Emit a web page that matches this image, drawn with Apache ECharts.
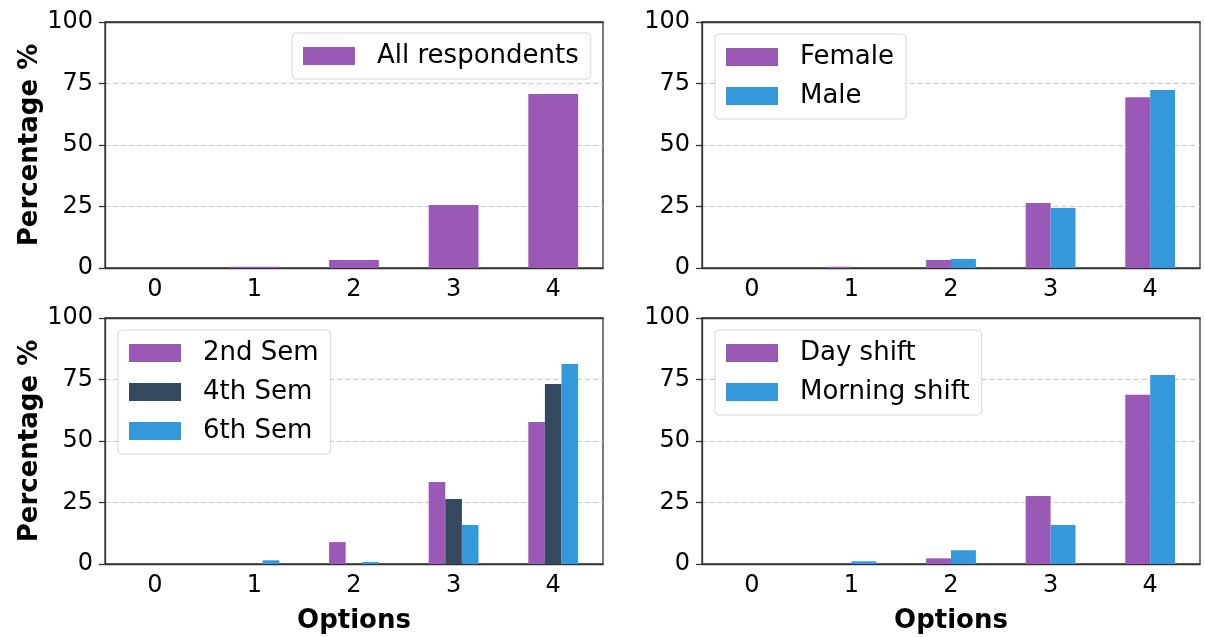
<!DOCTYPE html>
<html>
<head>
<meta charset="utf-8">
<script src="https://cdn.jsdelivr.net/npm/echarts@6/dist/echarts.min.js"></script>
<style>
  html, body { margin: 0; padding: 0; background: #fff; }
  #chart { width: 1205px; height: 637px; }
</style>
</head>
<body>
<div id="chart"></div>
<script>
  // data
  const options = ["0", "1", "2", "3", "4"];
  const allResp = [0, 0.5, 3.3, 25.6, 70.7];
  const female = [0, 0.5, 3.3, 26.4, 69.4];
  const male = [0, 0, 3.7, 24.4, 72.4];
  const sem2 = [0, 0, 8.9, 33.3, 57.7];
  const sem4 = [0, 0, 0, 26.4, 73.2];
  const sem6 = [0, 1.5, 0.8, 15.9, 81.3];
  const dayShift = [0, 0, 2.3, 27.6, 68.8];
  const morningShift = [0, 1.1, 5.6, 15.9, 76.8];
  const yTicks = [0, 25, 50, 75, 100];

  const C = { purple: "#9b59b6", dark: "#34495e", blue: "#3498db", frame: "#333", grid: "#c8c8c8" };
  const FONT = "DejaVu Sans";

  const grids = [
    { left: 105, top: 22, width: 498, height: 246 },
    { left: 702, top: 22, width: 498, height: 246 },
    { left: 105, top: 318, width: 498, height: 246 },
    { left: 702, top: 318, width: 498, height: 246 }
  ].map(g => ({ ...g, show: true, borderColor: C.frame, borderWidth: 1.3, backgroundColor: "transparent" }));

  const frameLine = { lineStyle: { color: C.frame, width: 1.3 } };

  const xAxes = [];
  grids.forEach((g, i) => {
    xAxes.push({
      type: "category", gridIndex: i, data: options,
      axisLine: frameLine,
      axisTick: { alignWithLabel: true, length: 6, ...frameLine },
      axisLabel: { color: "#000", fontFamily: FONT, fontSize: 24, margin: 10 },
      name: i >= 2 ? "Options" : "", nameLocation: "middle", nameGap: 44,
      nameTextStyle: { color: "#000", fontFamily: FONT, fontSize: 26, fontWeight: "bold" }
    });
  });
  // top frame edge, drawn over the dashed line at 100
  grids.forEach((g, i) => {
    xAxes.push({
      type: "category", gridIndex: i, position: "top", data: options, z: 10,
      axisLine: frameLine, axisTick: { show: false }, axisLabel: { show: false }, splitLine: { show: false }
    });
  });

  const yAxes = grids.map((g, i) => ({
    type: "value", gridIndex: i, min: yTicks[0], max: yTicks[yTicks.length - 1], interval: 25,
    axisLine: { show: true, ...frameLine },
    axisTick: { show: true, length: 6, ...frameLine },
    axisLabel: { color: "#000", fontFamily: FONT, fontSize: 24, margin: 12 },
    splitLine: { show: true, lineStyle: { color: C.grid, type: [5, 3], width: 1 } },
    name: i % 2 === 0 ? "Percentage %" : "", nameLocation: "middle", nameGap: 60,
    nameTextStyle: { color: "#000", fontFamily: FONT, fontSize: 26, fontWeight: "bold" }
  }));

  function bar(name, data, idx, color, width) {
    return {
      name, type: "bar", data, xAxisIndex: idx, yAxisIndex: idx,
      barWidth: width, barGap: "0%", itemStyle: { color }
    };
  }

  const series = [
    bar("All respondents", allResp, 0, C.purple, "50%"),
    bar("Female", female, 1, C.purple, "25%"),
    bar("Male", male, 1, C.blue, "25%"),
    bar("2nd Sem", sem2, 2, C.purple, "16.67%"),
    bar("4th Sem", sem4, 2, C.dark, "16.67%"),
    bar("6th Sem", sem6, 2, C.blue, "16.67%"),
    bar("Day shift", dayShift, 3, C.purple, "25%"),
    bar("Morning shift", morningShift, 3, C.blue, "25%")
  ];

  const legendBase = {
    orient: "vertical", itemWidth: 52, itemHeight: 18, itemGap: 9,
    padding: [8, 12, 8, 11], backgroundColor: "#fff", borderColor: "#d6d6d6", borderWidth: 1, borderRadius: 4,
    selectedMode: false, icon: "rect",
    textStyle: { color: "#000", fontFamily: FONT, fontSize: 26, lineHeight: 30, padding: [0, 0, 0, 17] }
  };
  const legends = [
    { ...legendBase, left: 292, top: 33, data: ["All respondents"] },
    { ...legendBase, left: 715, top: 34, data: ["Female", "Male"] },
    { ...legendBase, left: 118, top: 330, data: ["2nd Sem", "4th Sem", "6th Sem"] },
    { ...legendBase, left: 715, top: 330, data: ["Day shift", "Morning shift"] }
  ];

  const chart = echarts.init(document.getElementById("chart"), null, { renderer: "canvas" });
  chart.setOption({
    animation: false,
    grid: grids, xAxis: xAxes, yAxis: yAxes, legend: legends, series
  });
</script>
</body>
</html>
